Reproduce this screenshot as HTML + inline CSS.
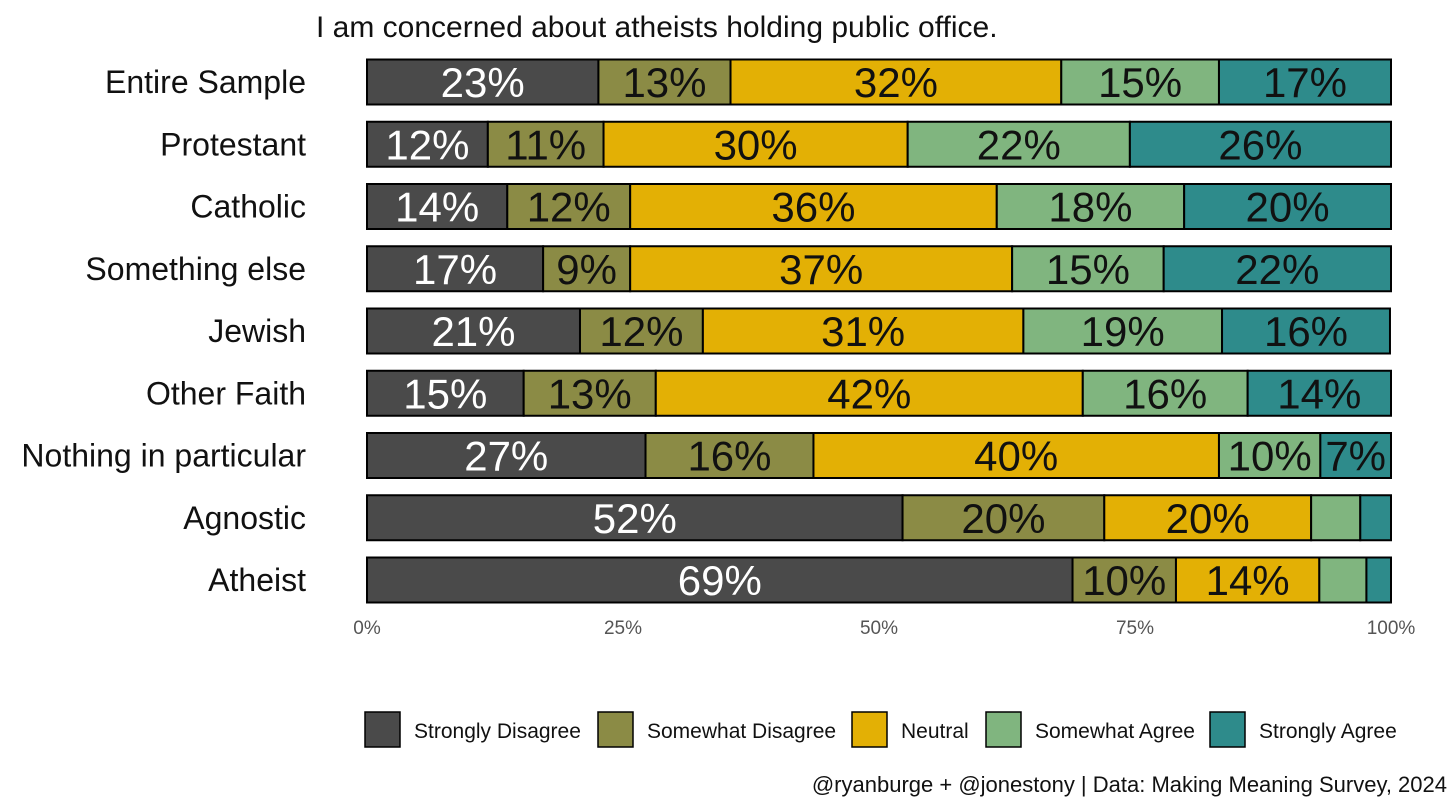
<!DOCTYPE html>
<html><head><meta charset="utf-8"><style>
body{margin:0;background:#fff;}
svg{display:block;font-family:"Liberation Sans Narrow","Liberation Sans",sans-serif;}
</style></head><body>
<svg id="chart" width="1456" height="809" viewBox="0 0 1456 809">
<text x="316" y="37" font-size="30" fill="#111">I am concerned about atheists holding public office.</text>
<g id="bars"></g>
<g id="axis"></g>
<g id="legend"></g>
<text x="1447" y="792" font-size="22" fill="#111" text-anchor="end">@ryanburge + @jonestony | Data: Making Meaning Survey, 2024</text>
</svg>
<script>
const categories=["Entire Sample","Protestant","Catholic","Something else","Jewish","Other Faith","Nothing in particular","Agnostic","Atheist"];
const stronglyDisagree=[22.6,11.8,13.7,17.2,20.8,15.3,27.2,52.3,68.9];
const somewhatDisagree=[12.9,11.3,12.0,8.5,12.0,12.9,16.4,19.7,10.1];
const neutral=[32.3,29.7,35.8,37.3,31.3,41.7,39.6,20.2,14.0];
const somewhatAgree=[15.4,21.7,18.3,14.8,19.4,16.1,9.9,4.8,4.6];
const stronglyAgree=[16.8,25.5,20.2,22.2,16.4,14.0,6.9,3.0,2.4];
const seriesNames=["Strongly Disagree","Somewhat Disagree","Neutral","Somewhat Agree","Strongly Agree"];
const tickLabels=["0%","25%","50%","75%","100%"];
const tickValues=[0,25,50,75,100];
const colors=["#4a4a4a","#8b8b45","#e3b005","#80b57f","#2e8b8b"];
const textColors=["#fff","#111","#111","#111","#111"];
const series=[stronglyDisagree,somewhatDisagree,neutral,somewhatAgree,stronglyAgree];
const NS="http://www.w3.org/2000/svg";
const x0=367,x1=1391;
const xs=v=>x0+(x1-x0)*v/100;
const yc=i=>82+i*62.25;
const bh=45;
function mk(tag,attrs,parent){const e=document.createElementNS(NS,tag);for(const k in attrs)e.setAttribute(k,attrs[k]);parent.appendChild(e);return e;}
const gb=document.getElementById('bars');
categories.forEach((c,i)=>{
  const t=mk('text',{x:306,y:yc(i)+11,'font-size':32,fill:'#111','text-anchor':'end'},gb);
  t.textContent=c;
  
  
  let cum=0;
  series.forEach((s,k)=>{
    const v=s[i];
    const r=mk('rect',{x:xs(cum),y:yc(i)-bh/2,width:xs(cum+v)-xs(cum),height:bh,fill:colors[k],stroke:'#000','stroke-width':2},gb);
    
    
    if(v>=6){
      const lt=mk('text',{x:(xs(cum)+xs(cum+v))/2,y:yc(i)+15,'font-size':42,fill:textColors[k],'text-anchor':'middle'},gb);
      lt.textContent=Math.round(v)+'%';
      
      
    }
    cum+=v;
  });
});
const ga=document.getElementById('axis');
tickValues.forEach((v,i)=>{
  const t=mk('text',{x:xs(v),y:634,'font-size':19,fill:'#555','text-anchor':'middle'},ga);
  t.textContent=tickLabels[i];
  
  
});
const gl=document.getElementById('legend');
const lx=[364,597,851,985,1209];
seriesNames.forEach((n,k)=>{
  const r=mk('rect',{x:lx[k]+1,y:712,width:35,height:35,fill:colors[k],stroke:'#000','stroke-width':1.5},gl);
  
  
  const t=mk('text',{x:lx[k]+50,y:738,'font-size':21,fill:'#111'},gl);
  t.textContent=n;
  
  
});
</script>
</body></html>
